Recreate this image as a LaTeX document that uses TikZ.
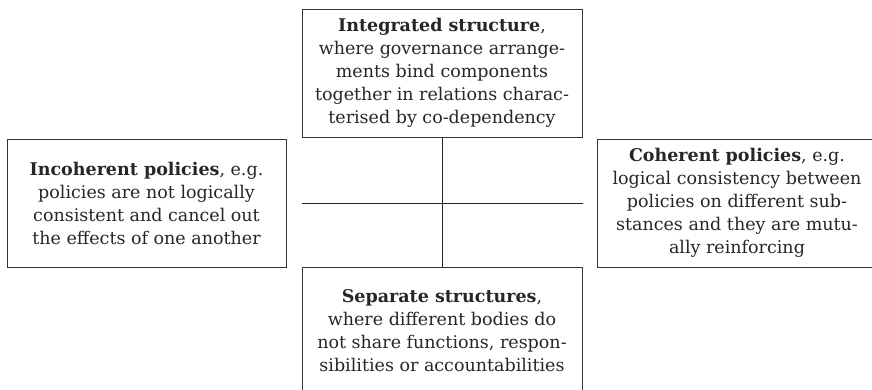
\documentclass[tikz,border=0pt]{standalone}
\usepackage{fontspec}
\setmainfont{DejaVu Serif}
\begin{document}
\begin{tikzpicture}[x=1pt,y=-1pt,
  box/.style={draw=black!80, line width=1pt, minimum width=280pt, minimum height=128pt,
    inner sep=0pt, align=center, text=black!85, font=\fontsize{17.5}{23}\selectfont},
  link/.style={draw=black!85, line width=1pt}]
\useasboundingbox (0,0) rectangle (872,389);
\node[box] (top) at (442,73) {\textbf{Integrated structure},\\where governance arrange-\\ments bind components\\together in relations charac-\\terised by co-dependency};
\node[box, minimum width=279pt] (left) at (146.5,203) {\textbf{Incoherent policies}, e.g.\\policies are not logically\\consistent and cancel out\\the effects of one another};
\node[box] (right) at (737,203) {\textbf{Coherent policies}, e.g.\\logical consistency between\\policies on different sub-\\stances and they are mutu-\\ally reinforcing};
\node[box] (bot) at (442,331) {\textbf{Separate structures},\\where different bodies do\\not share functions, respon-\\sibilities or accountabilities};
\coordinate (hl) at (top.south west |- left.east);
\coordinate (hr) at (top.south east |- right.west);
\draw[link] (top.south) -- (bot.north);
\draw[link] (hl) -- (hr);
\end{tikzpicture}
\end{document}
